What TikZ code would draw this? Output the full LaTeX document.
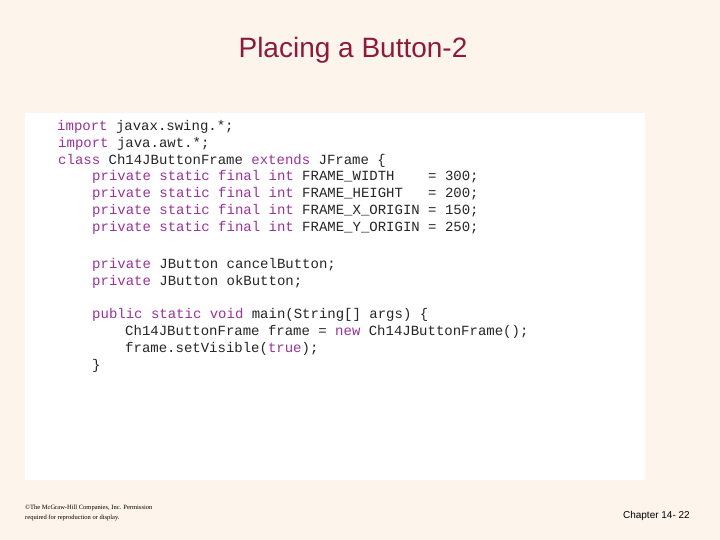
\documentclass[tikz,border=0pt]{standalone}
\usepackage{fontspec}
\setmainfont{Liberation Serif}
\setsansfont{Liberation Sans}
\setmonofont{Liberation Mono}
\definecolor{bg}{HTML}{FDF5EC}
\definecolor{ttl}{HTML}{8B1A3E}
\definecolor{kw}{HTML}{993399}
\newcommand{\kw}[1]{\textcolor{kw}{#1}}
\begin{document}
\begin{tikzpicture}[x=1pt,y=-1pt,
  code/.style={anchor=west,inner sep=0pt,font=\ttfamily\fontsize{14}{14}\selectfont,text=black!85}]
\fill[bg] (0,0) rectangle (720,540);
\useasboundingbox (0,0) rectangle (720,540);
\fill[white] (25,113) rectangle (645,480);
\node[font=\sffamily\fontsize{28}{28}\selectfont,text=ttl] (title) at (353,50) {Placing a Button-2};
\node[code] (l1) at (57,127) {\kw{import} javax.swing.*;};
\node[code] (l2) at (58,144) {\kw{import} java.awt.*;};
\node[code] (l3) at (58,161) {\kw{class} Ch14JButtonFrame \kw{extends} JFrame \{};
\node[code] (l4) at (92,177) {\kw{private} \kw{static} \kw{final} \kw{int} FRAME\_WIDTH\ \ \ \ = 300;};
\node[code] (l5) at (92,194) {\kw{private} \kw{static} \kw{final} \kw{int} FRAME\_HEIGHT\ \ \ = 200;};
\node[code] (l6) at (92,211) {\kw{private} \kw{static} \kw{final} \kw{int} FRAME\_X\_ORIGIN = 150;};
\node[code] (l7) at (92,228) {\kw{private} \kw{static} \kw{final} \kw{int} FRAME\_Y\_ORIGIN = 250;};
\node[code] (l8) at (92,265) {\kw{private} JButton cancelButton;};
\node[code] (l9) at (92,282) {\kw{private} JButton okButton;};
\node[code] (l10) at (92,315) {\kw{public} \kw{static} \kw{void} main(String[] args) \{};
\node[code] (l11) at (125,332) {Ch14JButtonFrame frame = \kw{new} Ch14JButtonFrame();};
\node[code] (l12) at (125,349) {frame.setVisible(\kw{true});};
\node[code] (l13) at (92,366) {\}};
\node[anchor=north west,inner sep=0pt,align=left,font=\fontsize{6.5}{10}\selectfont] (copy) at (25,505) {©The McGraw-Hill Companies, Inc. Permission\\required for reproduction or display.};
\node[anchor=east,inner sep=0pt,font=\sffamily\fontsize{10}{10}\selectfont] (chap) at (690,516) {Chapter 14- 22};
\end{tikzpicture}
\end{document}
